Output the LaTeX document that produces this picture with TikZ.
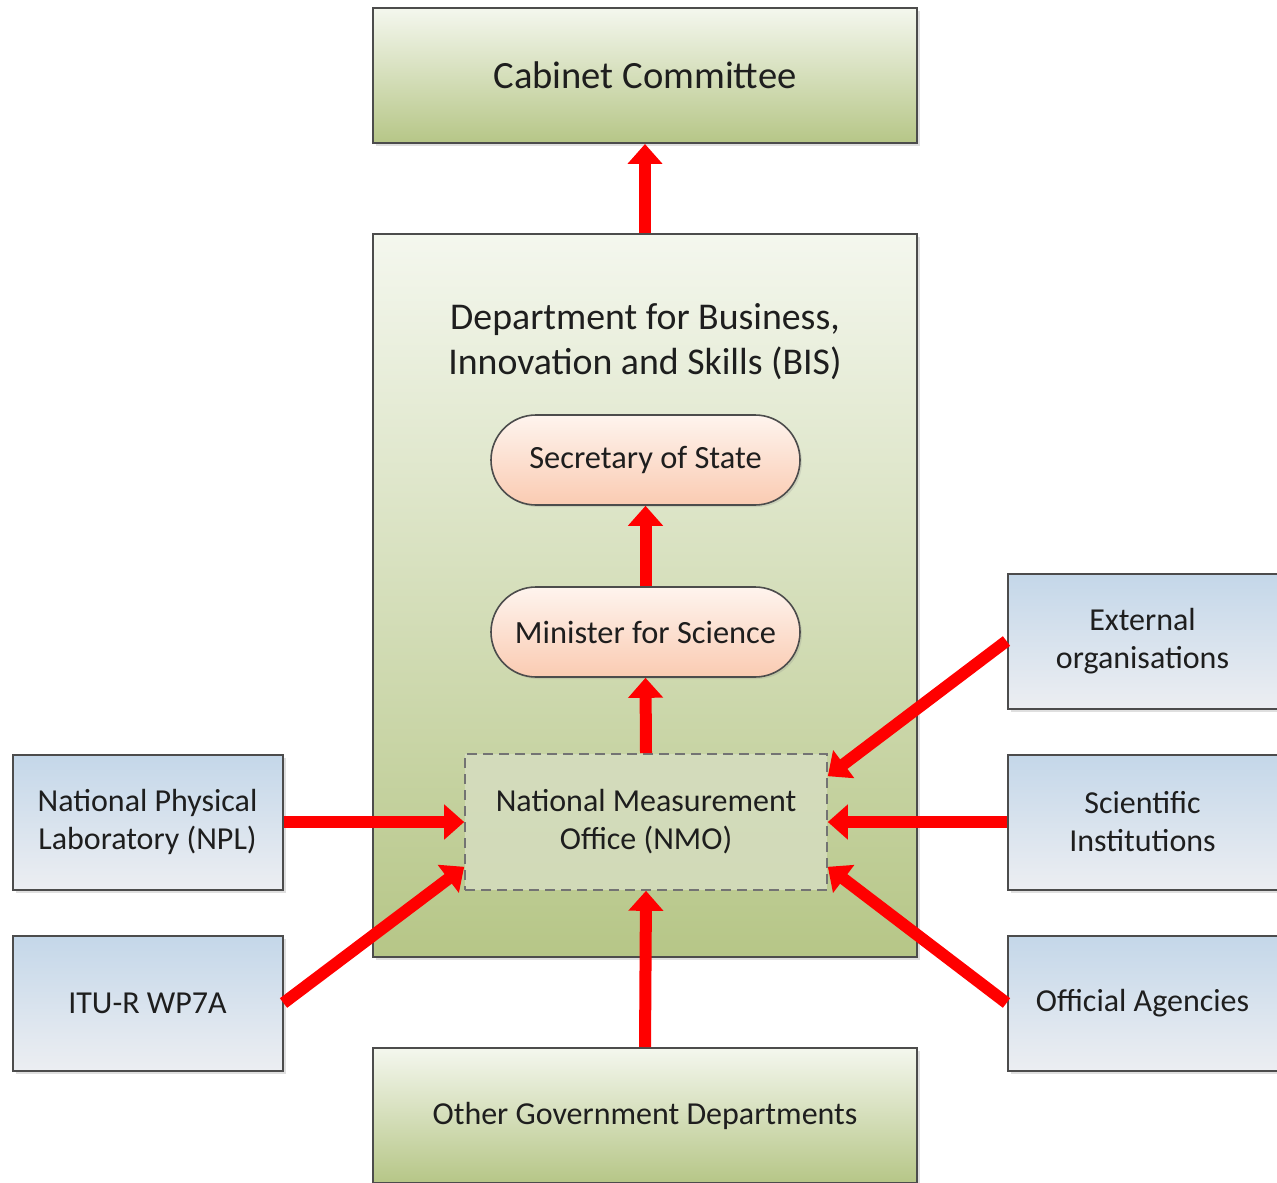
\documentclass[tikz,border=0pt]{standalone}
\usepackage{fontspec}
\setmainfont{Carlito}
\usetikzlibrary{arrows.meta,shadows}

\definecolor{inktext}{RGB}{30,30,30}
\definecolor{grntop}{RGB}{244,247,238}
\definecolor{grnbot}{RGB}{182,198,135}
\definecolor{blutop}{RGB}{196,215,233}
\definecolor{blubot}{RGB}{236,238,242}
\definecolor{pchtop}{RGB}{254,244,238}
\definecolor{pchbot}{RGB}{250,203,178}
\definecolor{nmofill}{RGB}{215,222,194}

\tikzset{
  govbox/.style={draw=black!70, line width=1pt, top color=grntop, bottom color=grnbot,
    text=inktext, align=center, minimum width=272pt,
    drop shadow={shadow xshift=1.5pt, shadow yshift=-1.5pt, opacity=.25}},
  orgbox/.style={draw=black!70, line width=1pt, top color=blutop, bottom color=blubot,
    text=inktext, align=center, font=\fontsize{16}{19}\selectfont,
    minimum width=135pt, minimum height=67.5pt,
    drop shadow={shadow xshift=1.5pt, shadow yshift=-1.5pt, opacity=.25}},
  pillbox/.style={draw=black!70, line width=.8pt, top color=pchtop, bottom color=pchbot,
    text=inktext, rounded corners=22.5pt, minimum width=154.5pt, minimum height=45pt,
    font=\fontsize{16.2}{19}\selectfont,
    drop shadow={shadow xshift=1pt, shadow yshift=-1pt, opacity=.2}},
  flow/.style={draw=red, line width=6pt, -{Triangle[length=10pt, width=17pt]}}
}

\begin{document}
\begin{tikzpicture}[x=0.5pt, y=-0.5pt]
\useasboundingbox (0,0) rectangle (1277,1182);

\node[govbox, minimum height=67.5pt, font=\fontsize{19.3}{23}\selectfont] (cabinet) at (645,75.5) {Cabinet Committee};
\node[govbox, minimum height=361.5pt] (bis) at (645,595.5) {};
\node[text=inktext, align=center, font=\fontsize{18.9}{22.5}\selectfont] (bistitle) at (645,342)
  {Department for Business,\\Innovation and Skills (BIS)};

\node[pillbox] (secretary) at (645.5,460) {Secretary of State};
\node[pillbox] (minister) at (645.5,632) {Minister for Science};

\node[draw=black!55, dash pattern=on 5pt off 3pt, line width=.8pt, fill=nmofill, fill opacity=.8,
  text opacity=1, text=inktext, align=center, font=\fontsize{16}{19}\selectfont,
  minimum width=181pt, minimum height=68pt] (nmo) at (646,822)
  {National Measurement\\Office (NMO)};

\node[govbox, minimum height=67.5pt, font=\fontsize{16}{19}\selectfont] (othergov) at (645,1115.5) {Other Government Departments};

\node[orgbox] (npl) at (147.5,822) {National Physical\\Laboratory (NPL)};
\node[orgbox] (itu) at (147.5,1003) {ITU-R WP7A};
\node[orgbox] (extorg) at (1142.5,641) {External\\organisations};
\node[orgbox] (sciinst) at (1142.5,822) {Scientific\\Institutions};
\node[orgbox] (offag) at (1142.5,1003) {Official Agencies};

\draw[flow] (bis.north) -- (cabinet.south);
\draw[flow] (minister.north) -- (secretary.south);
\draw[flow] (nmo.north) -- (minister.south);
\draw[flow] (othergov.north) -- (nmo.south);
\foreach \src/\dst in {npl.east/nmo.west, sciinst.west/nmo.east} {
  \draw[flow] (\src) -- (\dst);
}
\draw[flow] (itu.east) -- ([yshift=12pt]nmo.south west);
\draw[flow] (extorg.west) -- ([yshift=-11.5pt]nmo.north east);
\draw[flow] (offag.west) -- ([yshift=12pt]nmo.south east);
\end{tikzpicture}
\end{document}
